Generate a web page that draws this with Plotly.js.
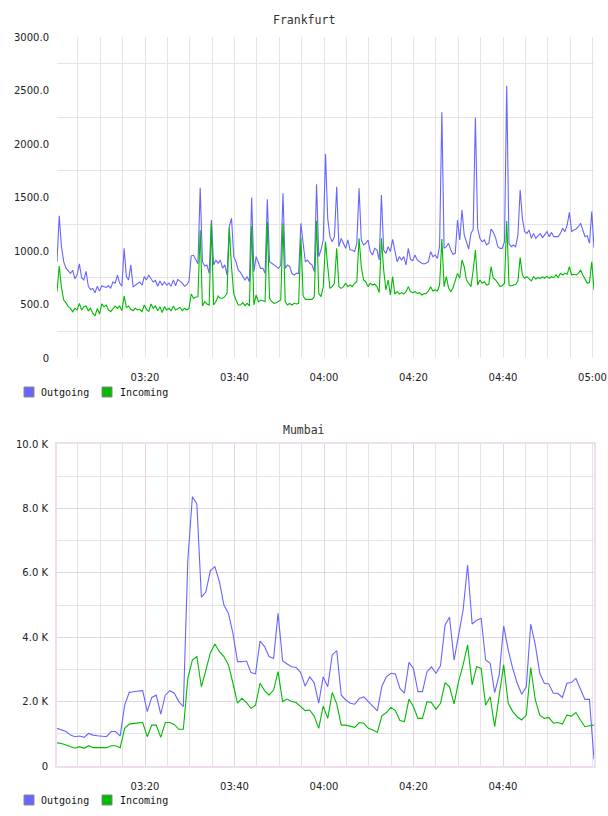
<!DOCTYPE html>
<html>
<head>
<meta charset="utf-8">
<script src="https://cdn.plot.ly/plotly-3.0.1.min.js"></script>
<style>
  html, body { margin: 0; padding: 0; background: #ffffff; }
  #chart { width: 608px; height: 816px; }
</style>
</head>
<body>
<div id="chart"></div>
<script>
// Traffic samples for two sites, 03:00 - 05:00.
const seriesNames = ['Outgoing', 'Incoming'];
const seriesColors = ['#6666ff', '#00bb00'];

// Frankfurt: one sample every 30 seconds.
const frankfurtStart = '03:00:20';
const frankfurtStepSec = 30;
const frankfurtOutgoing = [
  900, 1330, 1040, 900, 840, 810, 790, 820, 740, 780,
  880, 750, 730, 810, 670, 640, 650, 610, 670, 625,
  675, 665, 660, 675, 655, 710, 700, 775, 700, 670,
  1025, 760, 730, 870, 665, 680, 695, 710, 680, 760,
  730, 775, 740, 710, 725, 670, 720, 680, 710, 680,
  700, 670, 730, 675, 735, 720, 700, 670, 685, 720,
  955, 960, 915, 880, 1590, 900, 860, 870, 790, 1290,
  870, 915, 885, 915, 840, 870, 775, 1230, 1305, 950,
  900, 820, 800,
  766, 729, 760, 713, 1500, 807, 947,
  885, 838, 838, 791, 1483, 900, 885, 869, 854, 838,
  869, 1539, 838, 869, 854, 791, 776, 791, 791, 1259,
  1072, 900, 916, 885, 869, 807, 1623, 947, 1009, 1103,
  1907, 1300, 1134, 1087, 1134, 1601, 1040, 1118, 1072, 1025,
  1103, 1009, 1009, 994, 1072, 1586, 1103, 1056, 1072, 1103,
  994, 963, 1025, 1009, 916, 1523, 1009, 978, 1040, 994,
  1109, 1009, 900, 947, 916, 947, 869, 1025, 922, 910,
  963, 916, 900, 885,
  879, 885, 900, 994, 947, 963,
  931, 1050, 2296, 1025, 1040, 1072, 1009, 969, 978, 1290,
  1103, 1383, 1150, 1087, 1019, 1165, 1200, 2246, 1212, 1118,
  1087, 1103, 1056, 1072, 1206, 1174, 1125, 1040, 1025, 1025,
  1087, 2545, 1072, 1040, 1056, 1040, 1150, 1570, 1305, 1181,
  1165, 1196, 1118, 1165, 1118, 1143, 1162, 1125, 1150, 1181,
  1134, 1174, 1134, 1134, 1134, 1165, 1212, 1181, 1243, 1361,
  1181, 1196, 1206, 1227, 1259, 1196, 1134, 1143, 1072, 1368,
  1031
];
const frankfurtIncoming = [
  620, 860, 660, 542, 517, 480, 464, 433, 464, 450,
  511, 449, 480, 486, 442, 464, 417, 393, 464, 411,
  505, 480, 495, 449, 433, 464, 486, 464, 486, 442,
  579, 473, 486, 455, 442, 464, 449, 455, 433, 495,
  455, 433, 505, 464, 486, 442, 480, 424, 480, 449,
  464, 442, 486, 449, 464, 473, 442, 464, 449, 464,
  598, 558, 567, 573, 1196, 486, 526, 505, 495, 1258,
  495, 526, 579, 558, 558, 573, 604, 1215, 850, 600,
  542, 495, 495,
  517, 489, 511, 486, 1234, 495, 589,
  526, 542, 536, 526, 1274, 558, 526, 511, 517, 526,
  542, 1259, 526, 495, 511, 495, 511, 505, 511, 1125,
  580, 548, 548, 542, 548, 573, 1283, 604, 573, 667,
  1087, 850, 651, 667, 698, 1025, 667, 651, 667, 698,
  667, 682, 667, 698, 713, 1118, 854, 729, 713, 667,
  698, 682, 690, 667, 611, 1118, 822, 636, 729, 589,
  760, 598, 620, 598, 611, 598, 620, 667, 620, 611,
  620, 604, 611, 589,
  601, 604, 626, 667, 626, 636,
  626, 682, 1112, 667, 760, 657, 620, 657, 720, 791,
  745, 916, 854, 729, 698, 667, 820, 1009, 682, 729,
  698, 713, 682, 688, 854, 745, 729, 698, 667, 676,
  698, 1280, 682, 673, 682, 688, 720, 938, 776, 745,
  760, 738, 720, 760, 738, 751, 745, 757, 745, 763,
  745, 760, 751, 776, 751, 791, 776, 791, 782, 854,
  776, 782, 776, 791, 822, 776, 738, 698, 707, 900,
  636
];

// Mumbai: roughly one sample per minute over the same window.
const mumbaiStart = '03:00:20';
const mumbaiEnd = '05:00:20';
const mumbaiOutgoing = [
  1170, 1120, 1070, 960, 910, 930, 890, 1010, 960, 940,
  930, 910, 1070, 1070, 930, 1890, 2280, 2310, 2330, 2340,
  1690, 2130, 2200, 1610, 2200, 2340, 2260, 2000, 1840, 6400,
  8360, 8140, 5240, 5410, 6070, 6190, 5720, 5000, 4740, 4120,
  3240, 3240, 3260, 2900, 2860, 3880, 3710, 3400, 3340, 4740,
  3270, 3170, 3080, 3060, 2900, 2480, 2770, 2590, 1950, 2770,
  2460, 3450, 3580, 2200, 2050, 1950, 1920, 2100, 2150, 2000,
  1840, 1710, 2480, 2770, 2880, 2860, 2410, 2260, 3220, 3030,
  2310, 2310, 2930, 3080, 2880, 3120, 4380, 4620, 3290, 4070,
  4840, 6240, 4410, 4530, 4590, 3290, 3190, 2280, 2830, 4350,
  3600, 3030, 2570, 2230, 2460, 4410, 3760, 2880, 2570, 2550,
  2260, 2260, 2130, 2570, 2590, 2720, 2410, 2070, 2070, 210
];
const mumbaiIncoming = [
  720, 700, 650, 600, 550, 600, 550, 630, 570, 570,
  570, 570, 630, 630, 570, 1170, 1300, 1330, 1340, 1350,
  910, 1270, 1270, 890, 1350, 1350, 1290, 1140, 1140, 2720,
  3290, 3400, 2460, 2980, 3520, 3790, 3550, 3400, 3140, 2570,
  1950, 2100, 1970, 1790, 1890, 2570, 2340, 2200, 2360, 2930,
  2000, 2080, 2000, 1970, 1840, 1720, 1740, 1550, 1170, 1860,
  1480, 2280, 1930, 1270, 1270, 1240, 1200, 1350, 1330, 1170,
  1120, 1040, 1560, 1660, 1820, 1720, 1410, 1380, 2080, 1840,
  1480, 1480, 2000, 1970, 1760, 1950, 2590, 2460, 1930, 2620,
  3140, 3760, 2520, 3080, 3030, 1890, 2150, 1220, 2260, 3140,
  1950, 1690, 1530, 1430, 1580, 3060, 2050, 1580, 1480, 1510,
  1330, 1350, 1300, 1580, 1550, 1660, 1430, 1220, 1250, 1270
];

// Axis ticks
const timeTicks = ['03:20', '03:40', '04:00', '04:20', '04:40', '05:00'];
const mumbaiTimeTicks = ['03:20', '03:40', '04:00', '04:20', '04:40'];
const frankfurtYTicks = [0, 500, 1000, 1500, 2000, 2500, 3000];
const frankfurtYLabels = ['0', '500.0', '1000.0', '1500.0', '2000.0', '2500.0', '3000.0'];
const mumbaiYTicks = [0, 2000, 4000, 6000, 8000, 10000];
const mumbaiYLabels = ['0', '2.0 K', '4.0 K', '6.0 K', '8.0 K', '10.0 K'];

// ---- helpers -------------------------------------------------------------
const DAY = '2024-01-01';
function toMs(hms) {
  const p = hms.split(':').map(Number);
  return Date.UTC(2024, 0, 1, p[0], p[1], p[2] || 0);
}
function fmt(ms) {
  const d = new Date(ms);
  const pad = n => String(n).padStart(2, '0');
  return DAY + ' ' + pad(d.getUTCHours()) + ':' + pad(d.getUTCMinutes()) + ':' + pad(d.getUTCSeconds());
}
function stepTimes(start, stepSec, n) {
  const t0 = toMs(start);
  return Array.from({length: n}, (_, i) => fmt(t0 + i * stepSec * 1000));
}
function spanTimes(start, end, n) {
  const t0 = toMs(start), t1 = toMs(end);
  return Array.from({length: n}, (_, i) => fmt(t0 + (t1 - t0) * i / (n - 1)));
}
const tickDates = labels => labels.map(l => DAY + ' ' + l + ':00');

const fTimes = stepTimes(frankfurtStart, frankfurtStepSec, frankfurtOutgoing.length);
const mTimes = spanTimes(mumbaiStart, mumbaiEnd, mumbaiOutgoing.length);

const W = 608, H = 816;
const px = x => x / W;
const py = y => 1 - y / H;

const tickFont = {family: 'DejaVu Sans, sans-serif', size: 10, color: '#222222'};
const monoFont = {family: 'DejaVu Sans Mono, monospace', size: 10, color: '#111111'};

function line(x, y, name, color, xa, ya) {
  return {
    type: 'scatter', mode: 'lines', x: x, y: y, name: name,
    xaxis: xa, yaxis: ya, showlegend: false, hoverinfo: 'skip',
    line: {color: color, width: 1.1, shape: 'linear'}
  };
}

const traces = [
  line(fTimes, frankfurtOutgoing, seriesNames[0], seriesColors[0], 'x', 'y'),
  line(fTimes, frankfurtIncoming, seriesNames[1], seriesColors[1], 'x', 'y'),
  line(mTimes, mumbaiOutgoing, seriesNames[0], seriesColors[0], 'x2', 'y2'),
  line(mTimes, mumbaiIncoming, seriesNames[1], seriesColors[1], 'x2', 'y2')
];

const xRange = [DAY + ' ' + frankfurtStart, DAY + ' 05:00:20'];
const xDomain = [px(57), px(594)];

const lightGrid = '#e4e4e4';
const pinkGrid = '#e6d2e6';
const pinkFrame = '#eedfee';

const layout = {
  width: W, height: H,
  margin: {l: 0, r: 0, t: 0, b: 0},
  paper_bgcolor: '#ffffff',
  plot_bgcolor: '#ffffff',
  showlegend: false,
  font: tickFont,
  xaxis: {
    type: 'date', domain: xDomain, anchor: 'y', range: xRange,
    tickmode: 'array', tickvals: tickDates(timeTicks), ticktext: timeTicks,
    showgrid: true, gridcolor: lightGrid, gridwidth: 1,
    minor: {tickmode: 'linear', tick0: DAY + ' 03:00:00', dtick: 300000,
            showgrid: true, gridcolor: lightGrid, gridwidth: 1},
    ticks: 'outside', ticklen: 10, tickcolor: 'rgba(0,0,0,0)',
    showline: false, zeroline: false, tickfont: tickFont, fixedrange: true
  },
  yaxis: {
    domain: [py(358), py(37)], anchor: 'x', range: [0, 3000],
    tickmode: 'array', tickvals: frankfurtYTicks, ticktext: frankfurtYLabels,
    showgrid: false,
    minor: {tickmode: 'linear', tick0: 250, dtick: 500,
            showgrid: true, gridcolor: lightGrid, gridwidth: 1},
    ticks: 'outside', ticklen: 5, tickcolor: 'rgba(0,0,0,0)',
    showline: false, zeroline: false, tickfont: tickFont, fixedrange: true
  },
  xaxis2: {
    type: 'date', domain: xDomain, anchor: 'y2', range: xRange,
    tickmode: 'array', tickvals: tickDates(mumbaiTimeTicks), ticktext: mumbaiTimeTicks,
    showgrid: true, gridcolor: pinkGrid, gridwidth: 1,
    minor: {tickmode: 'linear', tick0: DAY + ' 03:00:00', dtick: 300000,
            showgrid: true, gridcolor: lightGrid, gridwidth: 1},
    ticks: 'outside', ticklen: 10, tickcolor: 'rgba(0,0,0,0)',
    showline: true, linecolor: pinkFrame, linewidth: 2, mirror: true,
    zeroline: false, tickfont: tickFont, fixedrange: true
  },
  yaxis2: {
    domain: [py(766), py(444)], anchor: 'x2', range: [0, 10000],
    tickmode: 'array', tickvals: mumbaiYTicks, ticktext: mumbaiYLabels,
    showgrid: true, gridcolor: pinkGrid, gridwidth: 1,
    minor: {tickmode: 'linear', tick0: 0, dtick: 1000,
            showgrid: true, gridcolor: lightGrid, gridwidth: 1},
    ticks: 'outside', ticklen: 5, tickcolor: 'rgba(0,0,0,0)',
    showline: true, linecolor: pinkFrame, linewidth: 2, mirror: true,
    zeroline: false, tickfont: tickFont, fixedrange: true
  },
  annotations: [],
  shapes: []
};

// Chart titles
const titles = [['Frankfurt', 20], ['Mumbai', 430]];
titles.forEach(([text, y]) => {
  layout.annotations.push({
    text: text, xref: 'paper', yref: 'paper', x: px(304), y: py(y),
    xanchor: 'center', yanchor: 'middle', showarrow: false,
    font: {family: 'DejaVu Sans Mono, monospace', size: 11.5, color: '#333333'}
  });
});

// Legends below each chart: colour swatch + series name
const legendRows = [392, 800];
const legendItems = [{x: 24, tx: 39}, {x: 102, tx: 118}];
legendRows.forEach(y => {
  legendItems.forEach((it, k) => {
    layout.shapes.push({
      type: 'rect', xref: 'paper', yref: 'paper',
      x0: px(it.x), x1: px(it.x + 10), y0: py(y + 5), y1: py(y - 5),
      fillcolor: seriesColors[k], line: {color: '#888888', width: 1}
    });
    layout.annotations.push({
      text: seriesNames[k], xref: 'paper', yref: 'paper',
      x: px(it.tx), y: py(y), xanchor: 'left', yanchor: 'middle',
      showarrow: false, font: monoFont
    });
  });
});

Plotly.newPlot('chart', traces, layout, {staticPlot: true, displayModeBar: false});
</script>
</body>
</html>
